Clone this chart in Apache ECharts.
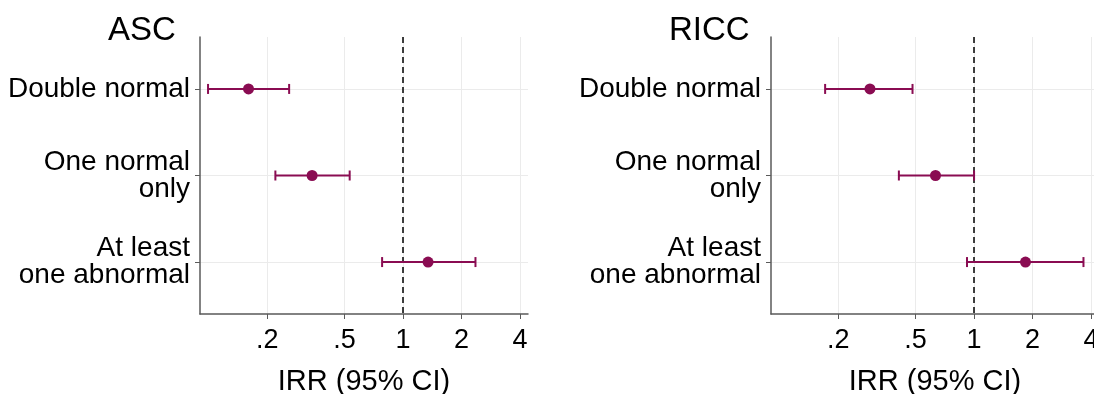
<!DOCTYPE html>
<html>
<head>
<meta charset="utf-8">
<script src="https://cdn.jsdelivr.net/npm/echarts@6/dist/echarts.min.js"></script>
<style>
  html, body { margin: 0; padding: 0; background: #ffffff; }
  #chart { width: 1094px; height: 394px; }
</style>
</head>
<body>
<div id="chart"></div>
<script>
// Outcome groups (rows, top to bottom) and panel titles
const rowLabels = ['Double normal', 'One normal\nonly', 'At least\none abnormal'];
const panelTitles = ['ASC', 'RICC'];
const xTicks = [0.2, 0.5, 1, 2, 4];

// Incidence rate ratios with 95% confidence limits
const ascIRR  = [0.160, 0.340, 1.345];
const ascLow  = [0.099, 0.220, 0.780];
const ascHigh = [0.259, 0.531, 2.360];

const riccIRR  = [0.291, 0.633, 1.840];
const riccLow  = [0.171, 0.410, 0.920];
const riccHigh = [0.482, 1.000, 3.660];

const FONT = '"Liberation Sans", Arial, sans-serif';
const MARK = '#8a0c52';
const AXIS = '#5a5a5a';
const GRID = '#ebebeb';

const panels = [
  { irr: ascIRR, low: ascLow, high: ascHigh },
  { irr: riccIRR, low: riccLow, high: riccHigh }
];

function tickText(v) {
  return String(v).replace(/^0(?=\.)/, '');
}

// the right panel runs past the page edge, so grids are laid out exactly as given
const grids = [
  { left: 200, top: 37, width: 328, height: 277, outerBoundsMode: 'none', containLabel: false },
  { left: 771, top: 37, width: 328, height: 277, outerBoundsMode: 'none', containLabel: false }
];

const xAxes = grids.map((g, i) => ({
  type: 'log',
  logBase: 10,
  gridIndex: i,
  min: 0.09,
  max: 4.4,
  name: 'IRR (95% CI)',
  nameLocation: 'middle',
  nameGap: 53,
  nameTextStyle: { fontFamily: FONT, fontSize: 29, color: '#000' },
  axisLine: { show: true, lineStyle: { color: AXIS, width: 1.5 } },
  axisTick: { show: true, length: 5, lineStyle: { color: AXIS, width: 1 }, customValues: xTicks },
  axisLabel: {
    customValues: xTicks,
    margin: 13,
    fontFamily: FONT, fontSize: 27, color: '#000',
    formatter: v => tickText(v)
  },
  splitLine: { show: true, lineStyle: { color: GRID, width: 1 } },
  minorTick: { show: false },
  minorSplitLine: { show: false }
}));

const yAxes = grids.map((g, i) => ({
  type: 'value',
  gridIndex: i,
  min: 0.4,
  max: 3.6,
  inverse: true,
  axisLine: { show: true, lineStyle: { color: AXIS, width: 1.5 } },
  axisTick: { show: true, length: 5, lineStyle: { color: AXIS, width: 1 }, customValues: [1, 2, 3] },
  axisLabel: {
    customValues: [1, 2, 3],
    margin: 10,
    fontFamily: FONT, fontSize: 28, lineHeight: 27, color: '#000',
    formatter: v => rowLabels[Math.round(v) - 1] || ''
  },
  splitLine: { show: true, lineStyle: { color: GRID, width: 1 } }
}));

const series = [];
panels.forEach((p, i) => {
  // confidence interval bars with end caps
  series.push({
    type: 'custom',
    xAxisIndex: i,
    yAxisIndex: i,
    z: 3,
    data: p.irr.map((_, k) => [p.low[k], p.high[k], k + 1]),
    encode: { x: [0, 1], y: 2 },
    renderItem: (params, api) => {
      const a = api.coord([api.value(0), api.value(2)]);
      const b = api.coord([api.value(1), api.value(2)]);
      const cap = 5;
      const style = { stroke: MARK, lineWidth: 2 };
      return {
        type: 'group',
        children: [
          { type: 'line', shape: { x1: a[0], y1: a[1], x2: b[0], y2: b[1] }, style },
          { type: 'line', shape: { x1: a[0], y1: a[1] - cap, x2: a[0], y2: a[1] + cap }, style },
          { type: 'line', shape: { x1: b[0], y1: b[1] - cap, x2: b[0], y2: b[1] + cap }, style }
        ]
      };
    }
  });
  // point estimates, with the reference line at IRR = 1
  series.push({
    type: 'scatter',
    xAxisIndex: i,
    yAxisIndex: i,
    z: 4,
    symbol: 'circle',
    symbolSize: 11,
    itemStyle: { color: MARK, opacity: 1 },
    data: p.irr.map((v, k) => [v, k + 1]),
    markLine: {
      silent: true,
      symbol: 'none',
      label: { show: false },
      z: 2,
      lineStyle: { color: '#000', type: [6, 4], width: 1.5 },
      data: [{ xAxis: 1 }]
    }
  });
});

const chart = echarts.init(document.getElementById('chart'), null, { renderer: 'canvas' });
chart.setOption({
  animation: false,
  backgroundColor: '#ffffff',
  title: [
    { text: panelTitles[0], left: 108, top: 14, padding: 0,
      textStyle: { fontFamily: FONT, fontSize: 33, fontWeight: 'normal', color: '#000' } },
    { text: panelTitles[1], left: 669, top: 14, padding: 0,
      textStyle: { fontFamily: FONT, fontSize: 33, fontWeight: 'normal', color: '#000' } }
  ],
  grid: grids,
  xAxis: xAxes,
  yAxis: yAxes,
  series: series
});
</script>
</body>
</html>
